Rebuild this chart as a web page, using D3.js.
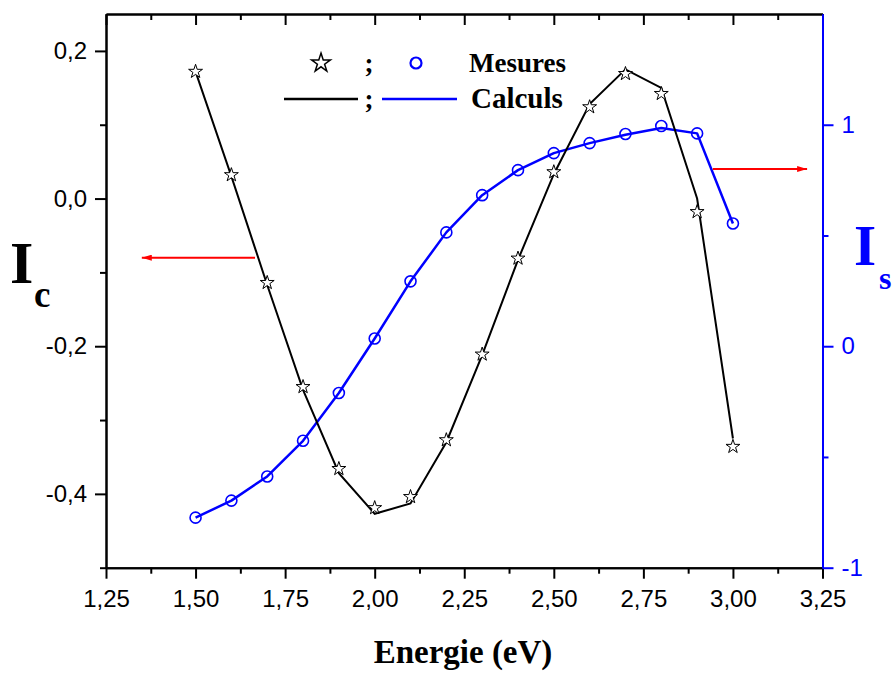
<!DOCTYPE html>
<html>
<head>
<meta charset="utf-8">
<script src="https://cdn.jsdelivr.net/npm/d3@7"></script>
<style>
  html, body { margin: 0; padding: 0; background: #fff; }
  svg { display: block; }
</style>
</head>
<body>
<svg id="chart" width="892" height="673"></svg>
<script>
// ---- data ----
const energies = [1.5, 1.6, 1.7, 1.8, 1.9, 2.0, 2.1, 2.2, 2.3, 2.4, 2.5, 2.6, 2.7, 2.8, 2.9, 3.0];
const icMesures = [0.172, 0.032, -0.114, -0.255, -0.366, -0.419, -0.404, -0.327, -0.211, -0.081, 0.036, 0.124, 0.169, 0.142, -0.018, -0.336];
const icCalculs = [0.172, 0.030, -0.117, -0.259, -0.372, -0.427, -0.413, -0.330, -0.212, -0.083, 0.033, 0.128, 0.175, 0.150, 0.000, -0.325];
const isMesures = [-0.774, -0.697, -0.588, -0.427, -0.211, 0.035, 0.293, 0.514, 0.682, 0.795, 0.872, 0.917, 0.958, 0.994, 0.961, 0.554];
const isCalculs = [-0.774, -0.697, -0.588, -0.427, -0.211, 0.035, 0.293, 0.514, 0.682, 0.795, 0.872, 0.917, 0.955, 0.985, 0.961, 0.554];

const xMajorTicks = [1.25, 1.50, 1.75, 2.00, 2.25, 2.50, 2.75, 3.00, 3.25];
const xMinorTicks = [1.375, 1.625, 1.875, 2.125, 2.375, 2.625, 2.875, 3.125];
const yLeftMajor = [-0.4, -0.2, 0.0, 0.2];
const yLeftMinor = [-0.5, -0.3, -0.1, 0.1];
const yRightMajor = [-1, 0, 1];
const yRightMinor = [-0.5, 0.5];

const legendLabels = ["Mesures", "Calculs"];
const xTitle = "Energie (eV)";
// arrows (data coordinates)
const arrowLeft = { from: 1.666, to: 1.35, y: -0.080 };
const arrowRight = { from: 2.944, to: 3.207, y: 0.80 };

// ---- layout ----
const svg = d3.select("#chart");
const L = 106, R = 822.5, T = 14, B = 567.7;

const x = d3.scaleLinear().domain([1.25, 3.25]).range([L, R]);
const yL = d3.scaleLinear().domain([-0.5, 0.25]).range([B, T]);
const yR = d3.scaleLinear().domain([-1, 1.5]).range([B, T]);

const comma = (f) => (d) => d3.format(f)(d).replace(".", ",").replace("−", "-");
const tickFont = "'Liberation Sans', Arial, sans-serif";
const serif = "'Liberation Serif', 'Times New Roman', serif";
const blue = "#0000ff";

function styleAxis(g, color) {
  g.selectAll("path.domain").attr("stroke", color).attr("stroke-width", 2);
  g.selectAll(".tick line").attr("stroke", color).attr("stroke-width", 2);
  g.selectAll(".tick text").attr("fill", color).style("font-family", tickFont).style("font-size", "24px");
}

// Bottom axis
const gB = svg.append("g").attr("transform", `translate(0,${B})`)
  .call(d3.axisBottom(x).tickValues(xMajorTicks).tickSize(11).tickSizeOuter(0).tickPadding(11).tickFormat(comma(".2f")));
styleAxis(gB, "#000");
const gBm = svg.append("g").attr("transform", `translate(0,${B})`)
  .call(d3.axisBottom(x).tickValues(xMinorTicks).tickSize(6).tickSizeOuter(0).tickFormat(""));
styleAxis(gBm, "#000");

// Top axis (inward ticks)
const gT = svg.append("g").attr("transform", `translate(0,${T})`)
  .call(d3.axisBottom(x).tickValues(xMajorTicks).tickSize(11).tickSizeOuter(0).tickFormat(""));
styleAxis(gT, "#000");
const gTm = svg.append("g").attr("transform", `translate(0,${T})`)
  .call(d3.axisBottom(x).tickValues(xMinorTicks).tickSize(6).tickSizeOuter(0).tickFormat(""));
styleAxis(gTm, "#000");

// Left axis
const gL = svg.append("g").attr("transform", `translate(${L},0)`)
  .call(d3.axisLeft(yL).tickValues(yLeftMajor).tickSize(11).tickSizeOuter(0).tickPadding(8).tickFormat(comma(".1f")));
styleAxis(gL, "#000");
const gLm = svg.append("g").attr("transform", `translate(${L},0)`)
  .call(d3.axisLeft(yL).tickValues(yLeftMinor).tickSize(6).tickSizeOuter(0).tickFormat(""));
styleAxis(gLm, "#000");

// Right axis (blue)
const gR = svg.append("g").attr("transform", `translate(${R},0)`)
  .call(d3.axisRight(yR).tickValues(yRightMajor).tickSize(11).tickSizeOuter(0).tickPadding(8).tickFormat(d3.format("d")));
styleAxis(gR, blue);
const gRm = svg.append("g").attr("transform", `translate(${R},0)`)
  .call(d3.axisRight(yR).tickValues(yRightMinor).tickSize(6).tickSizeOuter(0).tickFormat(""));
styleAxis(gRm, blue);
gR.selectAll(".tick text").text(d => String(d).replace("−", "-"));

// ---- series ----
const icCalcData = energies.map((e, i) => [e, icCalculs[i]]);
const isCalcData = energies.map((e, i) => [e, isCalculs[i]]);

svg.append("path")
  .datum(isCalcData)
  .attr("fill", "none").attr("stroke", blue).attr("stroke-width", 2.5)
  .attr("stroke-linejoin", "round")
  .attr("d", d3.line().x(d => x(d[0])).y(d => yR(d[1])));

svg.append("path")
  .datum(icCalcData)
  .attr("fill", "none").attr("stroke", "#000").attr("stroke-width", 2)
  .attr("d", d3.line().x(d => x(d[0])).y(d => yL(d[1])));

const star = d3.symbol().type(d3.symbolStar).size(60);
svg.append("g").selectAll("path")
  .data(energies.map((e, i) => [e, icMesures[i]]))
  .join("path")
  .attr("transform", d => `translate(${x(d[0])},${yL(d[1])})`)
  .attr("d", star)
  .attr("fill", "#fff").attr("stroke", "#000").attr("stroke-width", 1);

svg.append("g").selectAll("circle")
  .data(energies.map((e, i) => [e, isMesures[i]]))
  .join("circle")
  .attr("cx", d => x(d[0])).attr("cy", d => yR(d[1]))
  .attr("r", 5.5)
  .attr("fill", "none").attr("stroke", blue).attr("stroke-width", 1.6);

// ---- arrows ----
const defs = svg.append("defs");
defs.append("marker").attr("id", "ah")
  .attr("viewBox", "0 0 10 6").attr("refX", 10).attr("refY", 3)
  .attr("markerWidth", 12).attr("markerHeight", 6).attr("markerUnits", "userSpaceOnUse")
  .attr("orient", "auto")
  .append("path").attr("d", "M0,0 L10,3 L0,6 Z").attr("fill", "#ff0000");

svg.append("line")
  .attr("x1", x(arrowLeft.from)).attr("x2", x(arrowLeft.to))
  .attr("y1", yL(arrowLeft.y)).attr("y2", yL(arrowLeft.y))
  .attr("stroke", "#ff0000").attr("stroke-width", 2).attr("marker-end", "url(#ah)");
svg.append("line")
  .attr("x1", x(arrowRight.from)).attr("x2", x(arrowRight.to))
  .attr("y1", yR(arrowRight.y)).attr("y2", yR(arrowRight.y))
  .attr("stroke", "#ff0000").attr("stroke-width", 2).attr("marker-end", "url(#ah)");

// ---- legend ----
const lg = svg.append("g");
lg.append("path").attr("transform", "translate(321,63)").attr("d", d3.symbol().type(d3.symbolStar).size(110))
  .attr("fill", "#fff").attr("stroke", "#000").attr("stroke-width", 1.5);
lg.append("text").attr("x", 369).attr("y", 72).attr("text-anchor", "middle")
  .style("font-family", serif).style("font-weight", "bold").style("font-size", "27px").text(";");
lg.append("circle").attr("cx", 416).attr("cy", 63).attr("r", 5.5)
  .attr("fill", "none").attr("stroke", blue).attr("stroke-width", 2.2);
lg.append("text").attr("x", 469).attr("y", 72)
  .style("font-family", serif).style("font-weight", "bold").style("font-size", "27px").text(legendLabels[0]);

lg.append("line").attr("x1", 284).attr("x2", 358).attr("y1", 99).attr("y2", 99)
  .attr("stroke", "#000").attr("stroke-width", 2.5);
lg.append("text").attr("x", 369).attr("y", 108).attr("text-anchor", "middle")
  .style("font-family", serif).style("font-weight", "bold").style("font-size", "27px").text(";");
lg.append("line").attr("x1", 382).attr("x2", 457).attr("y1", 99).attr("y2", 99)
  .attr("stroke", blue).attr("stroke-width", 2.5);
lg.append("text").attr("x", 471).attr("y", 108)
  .style("font-family", serif).style("font-weight", "bold").style("font-size", "29px").text(legendLabels[1]);

// ---- axis titles ----
svg.append("text").attr("x", 463).attr("y", 663).attr("text-anchor", "middle")
  .style("font-family", serif).style("font-weight", "bold").style("font-size", "33px").text(xTitle);

const lt = svg.append("text").attr("x", 10).attr("y", 283)
  .style("font-family", serif).style("font-weight", "bold").attr("fill", "#000");
lt.append("tspan").style("font-size", "60px").text("I");
lt.append("tspan").attr("x", 34).attr("y", 307).style("font-size", "37px").text("c");

const rt = svg.append("text").attr("x", 854).attr("y", 265)
  .style("font-family", serif).style("font-weight", "bold").attr("fill", blue);
rt.append("tspan").style("font-size", "57px").text("I");
rt.append("tspan").attr("x", 879).attr("y", 289).style("font-size", "32px").text("s");
</script>
</body>
</html>
